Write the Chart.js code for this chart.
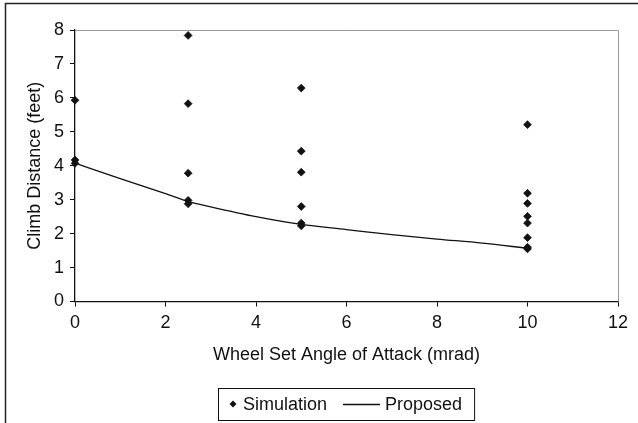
<!DOCTYPE html>
<html>
<head>
<meta charset="utf-8">
<script src="https://cdn.jsdelivr.net/npm/chart.js@4.4.0/dist/chart.umd.min.js"></script>
<style>
  html, body { margin: 0; padding: 0; background: #fff; }
</style>
</head>
<body>
<canvas id="chart" width="638" height="423"></canvas>
<script>
// simulation runs, grouped by angle of attack
const simX = [0, 0, 0,
  2.5, 2.5, 2.5, 2.5, 2.5,
  5, 5, 5, 5, 5, 5,
  10, 10, 10, 10, 10, 10, 10, 10];
const simY = [5.93, 4.17, 4.07,
  7.84, 5.83, 3.78, 2.98, 2.88,
  6.29, 4.43, 3.81, 2.80, 2.31, 2.23,
  5.21, 3.19, 2.89, 2.51, 2.31, 1.88, 1.60, 1.55];

// proposed curve
const propX = [0, 1, 2, 2.5, 3, 4, 5, 6, 7, 8, 9, 10];
const propY = [4.08, 3.62, 3.18, 2.95, 2.79, 2.50, 2.27, 2.12, 1.97, 1.84, 1.72, 1.57];

const xTicks = [0, 2, 4, 6, 8, 10, 12];
const yTicks = [0, 1, 2, 3, 4, 5, 6, 7, 8];

const FONT = "'Liberation Sans', Arial, sans-serif";
const INK = "#111";

Chart.defaults.font.family = FONT;
Chart.defaults.font.size = 18;
Chart.defaults.color = INK;

// outer frame of the figure (left + top edges only, the rest is cut off)
const frame = {
  id: "frame",
  afterDraw(chart) {
    const ctx = chart.ctx;
    ctx.save();
    ctx.strokeStyle = "#222";
    ctx.lineWidth = 1.5;
    ctx.beginPath();
    ctx.moveTo(5.5, chart.height);
    ctx.lineTo(5.5, 3.5);
    ctx.lineTo(chart.width, 3.5);
    ctx.stroke();
    ctx.restore();
  }
};

// grey plot area border on top and right
const plotBorder = {
  id: "plotBorder",
  beforeDatasetsDraw(chart) {
    const { ctx, chartArea: a } = chart;
    ctx.save();
    ctx.strokeStyle = "#9a9a9a";
    ctx.lineWidth = 1;
    ctx.beginPath();
    ctx.moveTo(a.left, a.top + 0.5);
    ctx.lineTo(a.right + 0.5, a.top + 0.5);
    ctx.lineTo(a.right + 0.5, a.bottom);
    ctx.stroke();
    ctx.restore();
  }
};

// boxed legend centered under the plot area
const boxedLegend = {
  id: "boxedLegend",
  afterDraw(chart) {
    const { ctx, chartArea: a } = chart;
    const sets = chart.data.datasets;
    ctx.save();
    ctx.font = "18px " + FONT;
    const w1 = ctx.measureText(sets[0].label).width;
    const w2 = ctx.measureText(sets[1].label).width;
    const lineLen = 37;
    const inner = 7 + 6.5 + w1 + 16 + lineLen + 5 + w2;
    const boxW = inner + 23.5;
    const boxL = Math.round((a.left + a.right) / 2 - boxW / 2);
    const boxT = chart.height - 35;
    const cy = boxT + 16;

    ctx.strokeStyle = INK;
    ctx.lineWidth = 1;
    ctx.strokeRect(boxL + 0.5, boxT + 0.5, boxW, 32);

    let x = boxL + 11.5;
    ctx.fillStyle = INK;
    ctx.beginPath();
    ctx.moveTo(x, cy);
    ctx.lineTo(x + 3.5, cy - 3.5);
    ctx.lineTo(x + 7, cy);
    ctx.lineTo(x + 3.5, cy + 3.5);
    ctx.closePath();
    ctx.fill();
    x += 7 + 6.5;

    ctx.textBaseline = "middle";
    ctx.textAlign = "left";
    ctx.fillText(sets[0].label, x, cy + 1);
    x += w1 + 16;

    ctx.beginPath();
    ctx.moveTo(x, cy + 0.5);
    ctx.lineTo(x + lineLen, cy + 0.5);
    ctx.lineWidth = 1.3;
    ctx.stroke();
    x += lineLen + 5;

    ctx.fillText(sets[1].label, x, cy + 1);
    ctx.restore();
  }
};

const ctx = document.getElementById("chart").getContext("2d");

new Chart(ctx, {
  type: "scatter",
  data: {
    datasets: [
      {
        label: "Simulation",
        data: simX.map((x, i) => ({ x: x, y: simY[i] })),
        pointStyle: "rectRot",
        pointRadius: 3.9,
        pointBorderWidth: 0.8,
        pointBackgroundColor: INK,
        pointBorderColor: INK,
        clip: false,
        order: 0
      },
      {
        label: "Proposed",
        data: propX.map((x, i) => ({ x: x, y: propY[i] })),
        showLine: true,
        borderColor: INK,
        borderWidth: 1.3,
        pointRadius: 0,
        cubicInterpolationMode: "monotone",
        fill: false,
        order: 1
      }
    ]
  },
  options: {
    responsive: false,
    animation: false,
    layout: {
      padding: { left: 6, top: 30, right: 20, bottom: 0 }
    },
    plugins: {
      legend: { display: false },
      tooltip: { enabled: false }
    },
    scales: {
      x: {
        type: "linear",
        min: 0,
        max: 12,
        afterBuildTicks: (s) => { s.ticks = xTicks.map((v) => ({ value: v })); },
        afterFit: (s) => { s.height = 121.5; },
        border: { display: true, color: INK, width: 1.3 },
        grid: {
          drawOnChartArea: false,
          drawTicks: true,
          tickLength: 5,
          tickColor: INK,
          color: INK
        },
        ticks: { padding: 6, color: INK },
        title: {
          display: true,
          text: "Wheel Set Angle of Attack (mrad)",
          color: INK,
          padding: { top: 0, bottom: 57 }
        }
      },
      y: {
        type: "linear",
        min: 0,
        max: 8,
        afterBuildTicks: (s) => { s.ticks = yTicks.map((v) => ({ value: v })); },
        afterFit: (s) => { s.width = 69; },
        border: { display: true, color: INK, width: 1.3 },
        grid: {
          drawOnChartArea: false,
          drawTicks: true,
          tickLength: 5,
          tickColor: INK,
          color: INK
        },
        ticks: { padding: 6, color: INK },
        title: {
          display: true,
          text: "Climb Distance (feet)",
          color: INK,
          padding: { top: 18, bottom: 0 }
        }
      }
    }
  },
  plugins: [frame, plotBorder, boxedLegend]
});
</script>
</body>
</html>
